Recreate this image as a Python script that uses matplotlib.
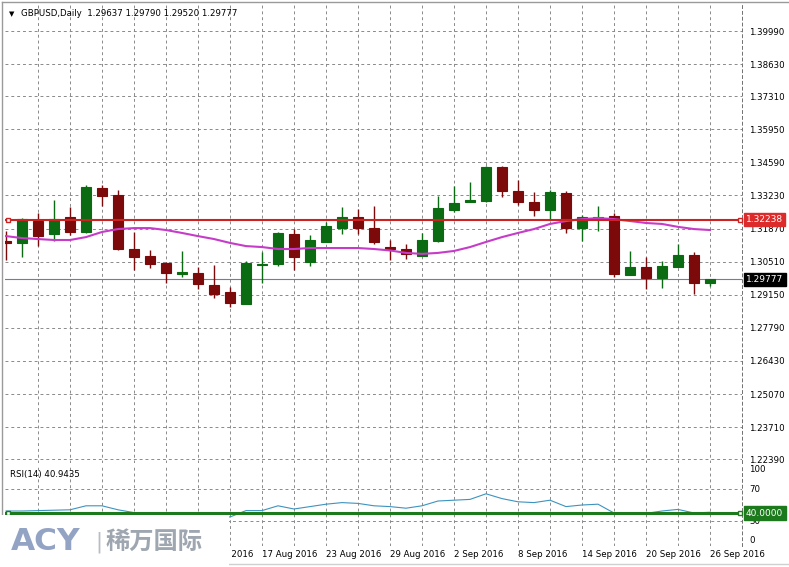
import numpy as np
import matplotlib
matplotlib.use("Agg")
import matplotlib.pyplot as plt
import matplotlib.transforms as mtransforms
from matplotlib.patches import Rectangle

# GBPUSD daily candles, 26 Jul 2016 .. 26 Sep 2016
opens = [1.3136, 1.3128, 1.3218, 1.3165, 1.3235, 1.3173, 1.3354, 1.3325, 1.3103, 1.3074,
         1.3046, 1.3000, 1.3005, 1.2955, 1.2926, 1.2877, 1.3039, 1.3042, 1.3165, 1.3050,
         1.3132, 1.3189, 1.3235, 1.3189, 1.3111, 1.3103, 1.3074, 1.3136, 1.3263, 1.3296,
         1.3300, 1.3440, 1.3341, 1.3296, 1.3263, 1.3333, 1.3189, 1.3226, 1.3239, 1.2996,
         1.3029, 1.2984, 1.3029, 1.3079, 1.29637]
highs = [1.3177, 1.3231, 1.3251, 1.3304, 1.3276, 1.3366, 1.3366, 1.3346, 1.3173, 1.3099,
         1.3050, 1.3095, 1.3029, 1.3037, 1.2947, 1.3054, 1.3091, 1.3173, 1.3185, 1.3161,
         1.3214, 1.3276, 1.3268, 1.3280, 1.3140, 1.3124, 1.3169, 1.3321, 1.3362, 1.3378,
         1.3444, 1.3444, 1.3387, 1.3337, 1.3346, 1.3341, 1.3243, 1.3280, 1.3251, 1.3095,
         1.3070, 1.3054, 1.3124, 1.3091, 1.29790]
lows = [1.3058, 1.3070, 1.3115, 1.3136, 1.3161, 1.3169, 1.3280, 1.3099, 1.3017, 1.3025,
        1.2963, 1.2988, 1.2939, 1.2902, 1.2865, 1.2877, 1.2963, 1.3033, 1.3017, 1.3033,
        1.3132, 1.3165, 1.3165, 1.3124, 1.3058, 1.3062, 1.3074, 1.3132, 1.3255, 1.3296,
        1.3296, 1.3317, 1.3284, 1.3239, 1.3226, 1.3169, 1.3136, 1.3177, 1.2988, 1.2996,
        1.2939, 1.2943, 1.3029, 1.2918, 1.29520]
closes = [1.3128, 1.3226, 1.3157, 1.3226, 1.3173, 1.3358, 1.3321, 1.3103, 1.3070, 1.3042,
          1.3005, 1.3009, 1.2959, 1.2918, 1.2881, 1.3046, 1.3043, 1.3169, 1.3070, 1.3140,
          1.3198, 1.3235, 1.3189, 1.3132, 1.3103, 1.3083, 1.3140, 1.3272, 1.3292, 1.3304,
          1.3440, 1.3341, 1.3296, 1.3263, 1.3337, 1.3189, 1.3235, 1.3235, 1.3000, 1.3029,
          1.2984, 1.3033, 1.3079, 1.2963, 1.29777]
ma_line = [1.3156, 1.3148, 1.3144, 1.3140, 1.3140, 1.3152, 1.3173, 1.3185, 1.3189, 1.3189,
           1.3181, 1.3169, 1.3156, 1.3144, 1.3128, 1.3115, 1.3111, 1.3103, 1.3103, 1.3107,
           1.3107, 1.3107, 1.3107, 1.3103, 1.3097, 1.3087, 1.3083, 1.3087, 1.3095, 1.3111,
           1.3132, 1.3152, 1.3169, 1.3185, 1.3206, 1.3218, 1.3226, 1.3230, 1.3226, 1.3218,
           1.3210, 1.3206, 1.3194, 1.3185, 1.3181]
rsi = [42.5, 42.5, 43, 43.5, 44, 49, 49, 44, 40.5, 40,
       39, 39.5, 37.5, 38, 35, 43, 43, 49, 45, 48,
       51, 53, 52, 49, 48, 46, 49, 55, 56, 57,
       64, 58, 54, 53, 56, 48, 50, 51, 40, 40,
       39.5, 42.5, 44.5, 40, 40.94]

level_price = 1.32238
rsi_level = 40.0
price_ticks = [1.39990, 1.38630, 1.37310, 1.35950, 1.34590, 1.33230, 1.31870,
               1.30510, 1.29150, 1.27790, 1.26430, 1.25070, 1.23710, 1.22390]
rsi_ticks = [100, 70, 30, 0]
# date labels every 4 bars; earlier ones sit under the logo and are not visible
date_labels = ['11 Aug 2016', '17 Aug 2016', '23 Aug 2016', '29 Aug 2016', '2 Sep 2016',
               '8 Sep 2016', '14 Sep 2016', '20 Sep 2016', '26 Sep 2016']

W, H = 789, 567
def fx(px):
    return px / W
def fy(py):
    return 1 - py / H

GREEN = '#0b6b12'
RED = '#7d0a0a'
GRID = dict(color='#8a8a8a', lw=0.7, ls=(0, (3, 3)), zorder=0)
FS = 6.2

fig = plt.figure(figsize=(7.89, 5.67), dpi=100)
fig.patch.set_facecolor('white')
ax = fig.add_axes([fx(5), fy(463), fx(742) - fx(5), fy(5) - fy(463)])
ax_rsi = fig.add_axes([fx(5), fy(546), fx(742) - fx(5), fy(465) - fy(546)], sharex=ax)

x = np.arange(len(opens))
o = np.array(opens); h = np.array(highs); l = np.array(lows); c = np.array(closes)
cols = np.where(c >= o, GREEN, RED)

# grid
for gx in range(2, 45, 2):
    ax.axvline(gx, **GRID)
    ax_rsi.axvline(gx, **GRID)
for t in price_ticks:
    ax.axhline(t, **GRID)
for t in [70, 30]:
    ax_rsi.axhline(t, **GRID)

# current price line
ax.axhline(c[-1], color='#7878a0', lw=0.8, zorder=1)

# candles
ax.vlines(x, l, h, colors=cols, lw=1.0, zorder=2)
ax.bar(x, np.abs(c - o), bottom=np.minimum(o, c), width=0.6, color=cols,
       edgecolor=cols, lw=0.8, zorder=3)

# moving average
ax.plot(x, ma_line, color='#c63cc9', lw=1.5, zorder=4)

# horizontal level
ax.axhline(level_price, color='#cc2222', lw=1.5, zorder=4)
ax.plot([0.125, 45.85], [level_price, level_price], 's', ms=3.5, mfc='white',
        mec='#cc2222', mew=1, zorder=5, clip_on=False)

ax.set_xlim(-0.0625, 46.0)
ax.set_ylim(1.22235, 1.41059)
ax.yaxis.tick_right()
ax.set_yticks(price_ticks)
ax.set_yticklabels([f'{t:.5f}' for t in price_ticks])
ax.tick_params(axis='y', length=0, pad=5, labelsize=FS)
ax.tick_params(axis='x', length=0, labelbottom=False)

blend = mtransforms.blended_transform_factory(ax.transAxes, ax.transData)
ax.text(1.0055, level_price, f'{level_price:.5f}', transform=blend, ha='left', va='center',
        color='white', fontsize=FS + 0.3, clip_on=False, zorder=6,
        bbox=dict(boxstyle='square,pad=0.25', fc='#dd2b2b', ec='#dd2b2b'))
ax.text(1.0055, c[-1], f'{c[-1]:.5f}', transform=blend, ha='left', va='center',
        color='white', fontsize=FS + 0.3, clip_on=False, zorder=6,
        bbox=dict(boxstyle='square,pad=0.25', fc='black', ec='black'))

# RSI panel
ax_rsi.plot(x, rsi, color='#3d93bf', lw=0.8, zorder=2)
ax_rsi.axhline(rsi_level, color='#1c7a1c', lw=2.2, zorder=3)
ax_rsi.plot([0.125, 45.85], [rsi_level, rsi_level], 's', ms=3.5, mfc='white',
            mec='#1c7a1c', mew=1, zorder=4, clip_on=False)
ax_rsi.set_ylim(-1.25, 100)
ax_rsi.yaxis.tick_right()
ax_rsi.set_yticks(rsi_ticks)
ax_rsi.set_yticklabels([str(t) for t in rsi_ticks])
ax_rsi.tick_params(axis='y', length=0, pad=5, labelsize=FS)
for lbl, t in zip(ax_rsi.get_yticklabels(), rsi_ticks):
    if t == 100:
        lbl.set_va('top')
    elif t == 0:
        lbl.set_va('bottom')
blend_r = mtransforms.blended_transform_factory(ax_rsi.transAxes, ax_rsi.transData)
ax_rsi.text(1.0055, rsi_level, f'{rsi_level:.4f}', transform=blend_r, ha='left', va='center',
            color='white', fontsize=FS + 0.3, clip_on=False, zorder=6,
            bbox=dict(boxstyle='square,pad=0.25', fc='#1c7a1c', ec='#1c7a1c'))

ax_rsi.set_xticks(range(12, 45, 4))
ax_rsi.set_xticklabels(date_labels)
ax_rsi.tick_params(axis='x', length=0, pad=3, labelsize=FS)
for lbl in ax_rsi.get_xticklabels():
    lbl.set_ha('left')

for a in (ax, ax_rsi):
    for s in ('top', 'bottom', 'left'):
        a.spines[s].set_visible(False)
    a.spines['right'].set_color('#707070')
    a.spines['right'].set_linewidth(0.7)
    a.spines['right'].set_linestyle((0, (3, 3)))
    a.set_facecolor('none')

# header texts
fig.text(fx(9), fy(14), '▼', fontsize=5, va='center', ha='left')
fig.text(fx(21), fy(14), 'GBPUSD,Daily  1.29637 1.29790 1.29520 1.29777',
         fontsize=FS, va='center', ha='left')
fig.text(fx(10), fy(474), 'RSI(14) 40.9435', fontsize=FS, va='center', ha='left')

# outer frame
fig.add_artist(plt.Line2D([fx(2), fx(2)], [fy(2), fy(565)], transform=fig.transFigure,
                          color='#9a9a9a', lw=1))
fig.add_artist(plt.Line2D([fx(2), fx(789)], [fy(2), fy(2)], transform=fig.transFigure,
                          color='#9a9a9a', lw=1))
fig.add_artist(plt.Line2D([fx(2), fx(789)], [fy(564), fy(564)], transform=fig.transFigure,
                          color='#d0d0d0', lw=1))

# watermark
wm = Rectangle((0, fy(567)), fx(229), fy(515) - fy(567), transform=fig.transFigure,
               fc='white', ec='none', zorder=5)
fig.add_artist(wm)
fig.text(fx(11), fy(542), 'ACY', fontsize=22.5, fontweight='heavy', color='#93a3c4',
         va='center', ha='left', zorder=6)
fig.text(fx(95), fy(542), '|', fontsize=15, color='#b8bcc4', va='center', ha='left', zorder=6)
fig.text(fx(106), fy(542), '稀万国际', fontsize=17.5, fontweight='bold', color='#9ea6b0',
         family=['Noto Sans CJK SC', 'DejaVu Sans'], va='center', ha='left', zorder=6)

fig.savefig('out.png', dpi=100)
